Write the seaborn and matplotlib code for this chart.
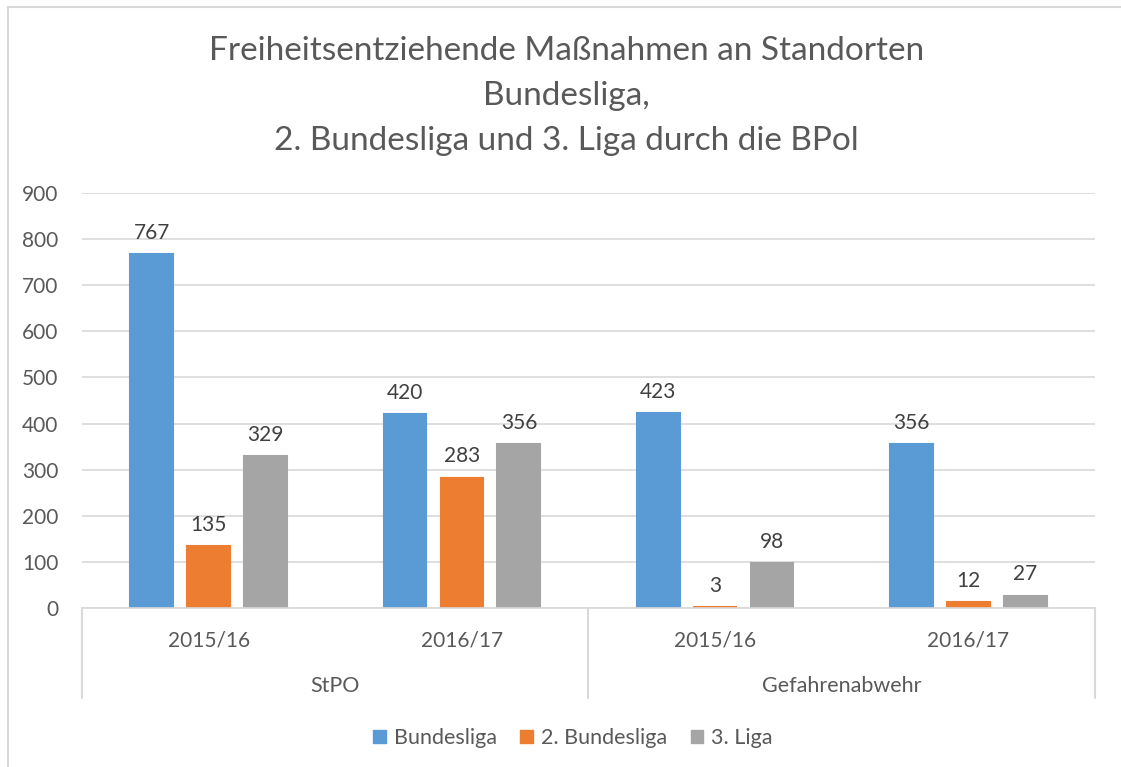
import matplotlib
matplotlib.use("Agg")
import matplotlib.pyplot as plt
from matplotlib.lines import Line2D
import seaborn as sns
import pandas as pd

# values
groups = ["StPO", "Gefahrenabwehr"]
seasons = ["2015/16", "2016/17"]
leagues = ["Bundesliga", "2. Bundesliga", "3. Liga"]
bundesliga = [767, 420, 423, 356]
bundesliga2 = [135, 283, 3, 12]
liga3 = [329, 356, 98, 27]
colors = ["#5B9BD5", "#ED7D31", "#A5A5A5"]

slots = [g + " " + s for g in groups for s in seasons]
rows = []
for vals, lg in zip([bundesliga, bundesliga2, liga3], leagues):
    for slot, v in zip(slots, vals):
        rows.append({"slot": slot, "league": lg, "value": v})
df = pd.DataFrame(rows)

sns.set_style("white")
plt.rcParams["font.family"] = ["Lato", "DejaVu Sans"]
txt = "#595959"
grid = "#D9D9D9"

fig = plt.figure(figsize=(11.21, 7.67), dpi=100)
ax = fig.add_axes([82 / 1121, 1 - 608 / 767, (1095 - 82) / 1121, 415 / 767])

sns.barplot(data=df, x="slot", y="value", hue="league", order=slots,
            hue_order=leagues, palette=colors, width=0.675, gap=0.25,
            saturation=1, ax=ax, legend=False)

for c, col in zip(ax.containers, colors):
    for p in c:
        p.set_edgecolor(col)
        p.set_linewidth(1.5)
    ax.bar_label(c, padding=8, fontsize=15, color="#404040")

ax.set_ylim(0, 900)
ax.set_xlim(-0.5, 3.5)
ax.set_yticks(range(0, 901, 100))
ax.yaxis.grid(True, color=grid, linewidth=1.2)
ax.set_axisbelow(True)
for s in ["top", "right", "left"]:
    ax.spines[s].set_visible(False)
ax.spines["bottom"].set_color(grid)
ax.spines["bottom"].set_linewidth(1.2)
ax.tick_params(axis="both", length=0, labelsize=15, colors=txt)
ax.tick_params(axis="y", pad=17)
ax.set_xticks(range(4))
ax.set_xticklabels(seasons * 2)
ax.tick_params(axis="x", pad=16)
ax.set_xlabel("")
ax.set_ylabel("")

trans = ax.get_xaxis_transform()
for x in [-0.5, 1.5, 3.5]:
    ax.add_line(Line2D([x, x], [0, -0.217], transform=trans, color=grid,
                       linewidth=1.5, clip_on=False))
for i, g in enumerate(groups):
    ax.text(0.5 + 2 * i, -0.188, g, transform=trans, ha="center",
            va="center", fontsize=15.5, color=txt)

fig.text(0.505, 1 - 96 / 767,
         "Freiheitsentziehende Maßnahmen an Standorten\nBundesliga,\n"
         "2. Bundesliga und 3. Liga durch die BPol",
         ha="center", va="center", fontsize=24, color=txt, linespacing=1.62)

handles = [plt.Rectangle((0, 0), 1, 1, color=c) for c in colors]
fig.legend(handles, leagues, loc="center", bbox_to_anchor=(0.511, 1 - 738 / 767),
           ncol=3, frameon=False, fontsize=15.5, handlelength=0.6,
           handleheight=0.6, columnspacing=1.1, handletextpad=0.35,
           labelcolor=txt)

# chart frame
fig.add_artist(Line2D([8 / 1121, 8 / 1121], [0, 1 - 7 / 767],
                      transform=fig.transFigure, color=grid, linewidth=1.5))
fig.add_artist(Line2D([8 / 1121, 1], [1 - 7 / 767, 1 - 7 / 767],
                      transform=fig.transFigure, color=grid, linewidth=1.5))

fig.savefig("out.png", dpi=100)
